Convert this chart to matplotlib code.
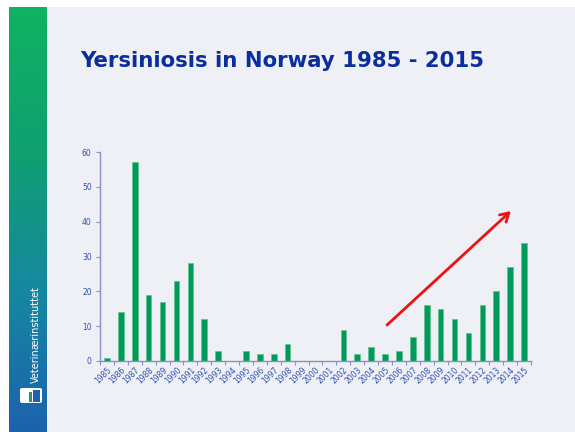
import matplotlib

matplotlib.use("Agg")
import matplotlib.pyplot as plt
import numpy as np
from matplotlib.colors import LinearSegmentedColormap
from matplotlib.patches import FancyBboxPatch

YEARS = [str(y) for y in range(1985, 2016)]
CASES = [1, 14, 57, 19, 17, 23, 28, 12, 3, 0, 3, 2, 2, 5, 0, 0, 0,
         9, 2, 4, 2, 3, 7, 16, 15, 12, 8, 16, 20, 27, 34]
Y_TICKS = [0, 10, 20, 30, 40, 50, 60]
TREND_START = (20.0, 9.8)   # around 2005
TREND_END = (29.2, 43.6)    # near 2014

BG = "#eff0f6"
BAR = "#009a5a"
BAR_EDGE = "#5cc48e"
AXIS = "#8b8fc8"
LABEL = "#2f4fb0"
TITLE = "#0a2f9c"

fig = plt.figure(figsize=(5.75, 4.32), dpi=100)
fig.patch.set_facecolor("white")

# slide background
bg_ax = fig.add_axes([0, 0, 1, 1], zorder=-2)
bg_ax.set_xlim(0, 575)
bg_ax.set_ylim(432, 0)
bg_ax.axis("off")
bg_ax.add_patch(plt.Rectangle((9, 7), 566, 425, color=BG, lw=0))

# gradient strip on the left
grad = LinearSegmentedColormap.from_list("strip", ["#0fb262", "#10a070", "#1688a0", "#1c62ae"])
g = np.linspace(0, 1, 256).reshape(-1, 1)
bg_ax.imshow(g, cmap=grad, extent=(9, 47, 432, 7), aspect="auto", zorder=1)
bg_ax.text(36, 335, "Veterinærinstituttet", rotation=90, color="white",
           fontsize=7, ha="center", va="center", zorder=2)
bg_ax.add_patch(FancyBboxPatch((20, 388), 22, 15, boxstyle="round,pad=0,rounding_size=2",
                               fc="white", ec="none", zorder=2))
bg_ax.add_patch(plt.Rectangle((29, 392), 3, 10, color="#2a9a5a", lw=0, zorder=3))
bg_ax.add_patch(plt.Rectangle((33, 390), 7, 12, color="#1c62ae", lw=0, zorder=3))

fig.text(80 / 575, 1 - 61 / 432, "Yersiniosis in Norway 1985 - 2015", fontsize=15.3,
         fontweight="bold", color=TITLE, ha="left", va="center")

# chart
ax = fig.add_axes([100 / 575, 1 - 361 / 432, 431 / 575, 209 / 432])
ax.set_facecolor("none")
x = np.arange(len(YEARS))
ax.bar(x, CASES, width=0.4, color=BAR, edgecolor=BAR_EDGE, linewidth=0.5)
ax.set_xlim(-0.5, len(YEARS) - 0.5)
ax.set_ylim(0, 60)
ax.set_yticks(Y_TICKS)
ax.set_yticklabels([str(v) for v in Y_TICKS], fontsize=5.5, color=LABEL)
ax.set_xticks(x)
ax.set_xticklabels(YEARS, rotation=45, ha="right", rotation_mode="anchor",
                   fontsize=5.5, color=LABEL)
ax.set_xticks(np.arange(-0.5, len(YEARS)), minor=True)
ax.tick_params(axis="x", which="major", length=0, pad=3)
ax.tick_params(axis="x", which="minor", length=3, color=AXIS, width=0.8)
ax.tick_params(axis="y", length=3, color=AXIS, width=0.8, pad=3)
for s in ["top", "right"]:
    ax.spines[s].set_visible(False)
for s in ["left", "bottom"]:
    ax.spines[s].set_color(AXIS)
    ax.spines[s].set_linewidth(1.0)

ax.annotate("", xy=TREND_END, xytext=TREND_START, annotation_clip=False,
            arrowprops=dict(arrowstyle="->,head_length=0.6,head_width=0.35",
                            color="#ee1111", lw=2))

fig.savefig("out.png", dpi=100)
